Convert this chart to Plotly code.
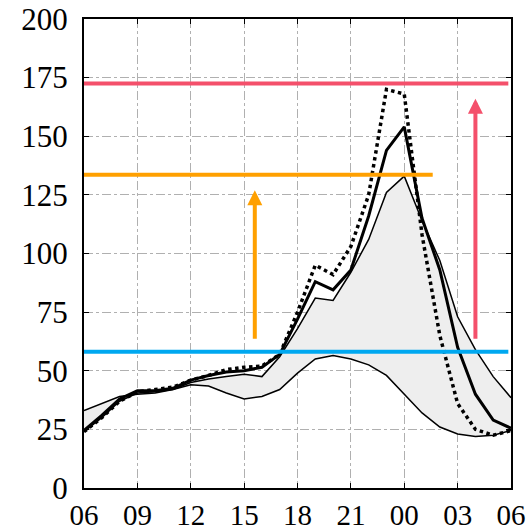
import plotly.graph_objects as go

hours = list(range(6, 31))
tick_vals = [6, 9, 12, 15, 18, 21, 24, 27, 30]
tick_text = ["06", "09", "12", "15", "18", "21", "00", "03", "06"]

dotted = [24, 30, 37, 41, 42, 43, 46, 48, 50.5, 51.5, 52, 57, 75, 95, 91, 103, 125, 170, 168, 108, 65, 36, 25, 22.5, 24.5]
thick = [24.5, 31, 38, 41.5, 41.5, 42.5, 46, 48, 49.5, 50, 51.5, 57, 72, 88, 84.5, 93, 116, 144, 154, 115, 93, 60, 40, 29, 25.5]
band_upper = [24, 30, 37, 40.5, 41, 42, 45, 46.5, 47.5, 48.5, 47.5, 56, 68, 81, 80, 92, 106, 126, 133, 114, 97, 73, 59, 47.5, 38.5]
band_lower = [33, 36, 39, 40, 40.5, 42, 44, 43.5, 40.5, 38, 39, 42, 49, 55, 56.5, 55, 52.5, 48, 40, 32, 26, 23, 22, 22.5, 24.5]

red_level = 172.5
orange_level = 133.6
blue_level = 58.1
orange_end = 25.6
line_end = 29.85
orange_arrow = (15.6, 63, 127)
red_arrow = (28.0, 63, 166)

fig = go.Figure()
fig.add_trace(go.Scatter(x=hours, y=band_lower, mode="lines",
                         line=dict(color="black", width=1.5), showlegend=False))
fig.add_trace(go.Scatter(x=hours, y=band_upper, mode="lines", fill="tonexty",
                         fillcolor="#eeeeee",
                         line=dict(color="black", width=1.5), showlegend=False))
fig.add_trace(go.Scatter(x=hours, y=thick, mode="lines",
                         line=dict(color="black", width=3), showlegend=False))
fig.add_trace(go.Scatter(x=hours, y=dotted, mode="lines",
                         line=dict(color="black", width=3.5, dash="dot"), showlegend=False))

fig.add_trace(go.Scatter(x=[6, line_end], y=[red_level, red_level], mode="lines",
                         line=dict(color="#f4506b", width=4), showlegend=False))
fig.add_trace(go.Scatter(x=[6, orange_end], y=[orange_level, orange_level], mode="lines",
                         line=dict(color="#ffa000", width=4), showlegend=False))
fig.add_trace(go.Scatter(x=[6, line_end], y=[blue_level, blue_level], mode="lines",
                         line=dict(color="#00a8f0", width=4), showlegend=False))

for (ax_x, y0, y1), col in [(orange_arrow, "#ffa000"), (red_arrow, "#f4506b")]:
    fig.add_annotation(x=ax_x, y=y1, ax=ax_x, ay=y0, xref="x", yref="y",
                       axref="x", ayref="y", showarrow=True, text="",
                       arrowhead=2, arrowsize=0.75, arrowwidth=4, arrowcolor=col)

serif = "Liberation Serif, Times New Roman, serif"
fig.update_xaxes(range=[6, 30], tickvals=tick_vals, ticktext=tick_text,
                 showgrid=True, gridcolor="#b0b0b0", gridwidth=1, griddash="dashdot",
                 showline=True, linecolor="black", linewidth=2, mirror="ticks",
                 ticks="inside", ticklen=5, tickcolor="black",
                 tickfont=dict(family=serif, size=29, color="black"),
                 zeroline=False, automargin=False, ticklabelstandoff=0)
fig.update_yaxes(range=[0, 200], tickvals=list(range(0, 201, 25)),
                 showgrid=True, gridcolor="#b0b0b0", gridwidth=1, griddash="dashdot",
                 showline=True, linecolor="black", linewidth=2, mirror="ticks",
                 ticks="inside", ticklen=5, tickcolor="black",
                 tickfont=dict(family=serif, size=31, color="black"),
                 zeroline=False, automargin=False, ticklabelstandoff=8)
fig.update_layout(width=531, height=530, margin=dict(l=84, r=20, t=19, b=42),
                  plot_bgcolor="white", paper_bgcolor="white")
fig.write_html("out.html", config={"displayModeBar": False},
               post_script="document.body.style.margin='0';")
